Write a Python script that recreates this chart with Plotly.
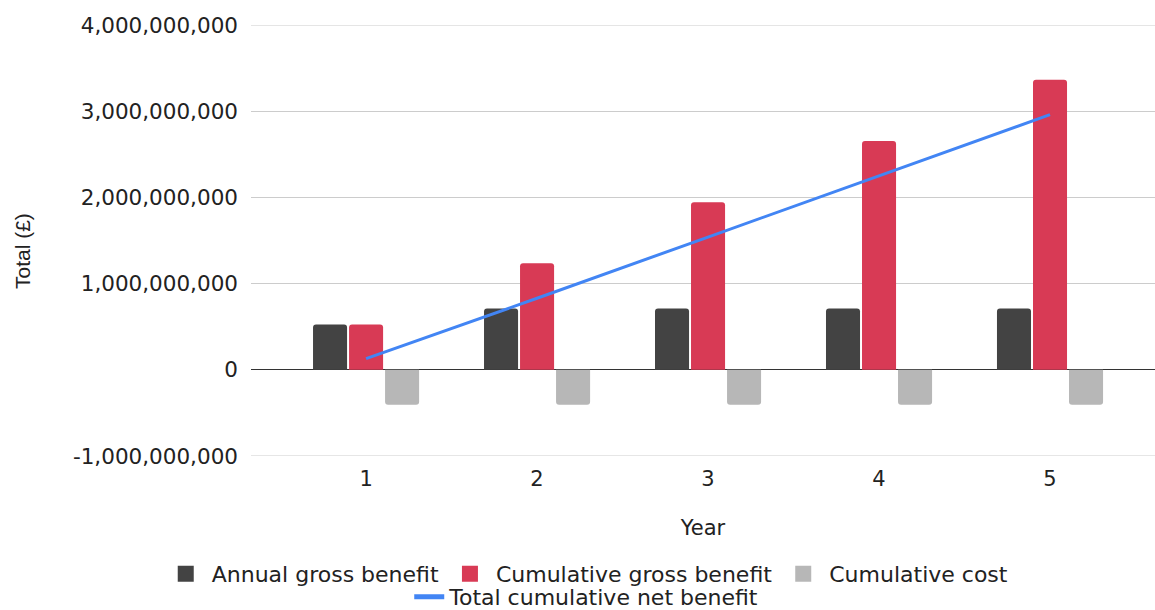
import plotly.graph_objects as go

years = [1, 2, 3, 4, 5]
year_labels = ["1", "2", "3", "4", "5"]
annual_gross = [525e6, 710e6, 710e6, 710e6, 710e6]
cumulative_gross = [525e6, 1235e6, 1945e6, 2655e6, 3365e6]
cumulative_cost = [-405e6, -405e6, -405e6, -405e6, -405e6]
net_benefit = [130e6, 830e6, 1540e6, 2250e6, 2960e6]
y_tick_vals = [-1e9, 0, 1e9, 2e9, 3e9, 4e9]
y_tick_text = ["-1,000,000,000", "0", "1,000,000,000", "2,000,000,000",
               "3,000,000,000", "4,000,000,000"]

names = ["Annual gross benefit", "Cumulative gross benefit", "Cumulative cost"]
colors = ["#434343", "#d83a55", "#b7b7b7"]
series = [annual_gross, cumulative_gross, cumulative_cost]

font = "DejaVu Sans, sans-serif"
vfont = "Liberation Sans, Arial, sans-serif"

fig = go.Figure()
for nm, col, vals in zip(names, colors, series):
    fig.add_trace(go.Bar(x=years, y=vals, name=nm, showlegend=False,
                         marker=dict(color=col, line=dict(width=0))))
# legend entries with larger square swatches
for nm, col in zip(names, colors):
    fig.add_trace(go.Scatter(x=[None], y=[None], name=nm, mode="markers",
                             marker=dict(symbol="square", size=21, color=col),
                             legend="legend"))
fig.add_trace(go.Scatter(x=years, y=net_benefit, name="Total cumulative net benefit",
                         mode="lines", line=dict(color="#4285f4", width=3),
                         showlegend=False))
fig.add_trace(go.Scatter(x=[None], y=[None], name="Total cumulative net benefit",
                         mode="lines", line=dict(color="#4285f4", width=5),
                         legend="legend2"))

# gridlines at the axis range ends
for v in (y_tick_vals[0], y_tick_vals[-1]):
    fig.add_shape(type="line", xref="paper", x0=0, x1=1, yref="y", y0=v, y1=v,
                  line=dict(color="#cccccc", width=1), layer="below")

fig.add_annotation(text="Total (£)", textangle=-90, xref="paper", yref="paper",
                   x=(22 - 251) / 904, y=(456 - 251) / 431, showarrow=False,
                   xanchor="center", yanchor="middle",
                   font=dict(size=21, family=vfont, color="#222222"))

fig.update_layout(
    width=1155, height=610,
    margin=dict(l=251, r=0, t=25, b=154, autoexpand=False),
    plot_bgcolor="white", paper_bgcolor="white",
    barmode="group", bargap=0.368, bargroupgap=0.055,
    barcornerradius=3,
    font=dict(family=font, size=21, color="#222222"),
    showlegend=True,
    legend=dict(orientation="h", x=0.508, xanchor="center", xref="container",
                y=(610 - 574) / 610, yanchor="middle", yref="container",
                bgcolor="rgba(0,0,0,0)",
                font=dict(size=22, color="#222222"), itemwidth=42, itemsizing="trace"),
    legend2=dict(orientation="h", x=0.508, xanchor="center", xref="container",
                 y=(610 - 597) / 610, yanchor="middle", yref="container",
                 bgcolor="rgba(0,0,0,0)",
                 font=dict(size=22, color="#222222"), itemwidth=30),
    xaxis=dict(range=[0.327, 5.614], tickmode="array", tickvals=years,
               ticktext=year_labels, showgrid=False, zeroline=False,
               showline=False, ticks="", ticklabelstandoff=8,
               title=dict(text="Year", font=dict(size=21), standoff=30),
               tickfont=dict(size=21)),
    yaxis=dict(range=[-1e9, 4e9], tickmode="array", tickvals=y_tick_vals,
               ticktext=y_tick_text,
               showgrid=True, gridcolor="#cccccc", gridwidth=1,
               zeroline=True, zerolinecolor="#333333", zerolinewidth=1,
               ticks="", ticklabelstandoff=12,
               tickfont=dict(size=21.5)),
)

fig.write_html("out.html")
